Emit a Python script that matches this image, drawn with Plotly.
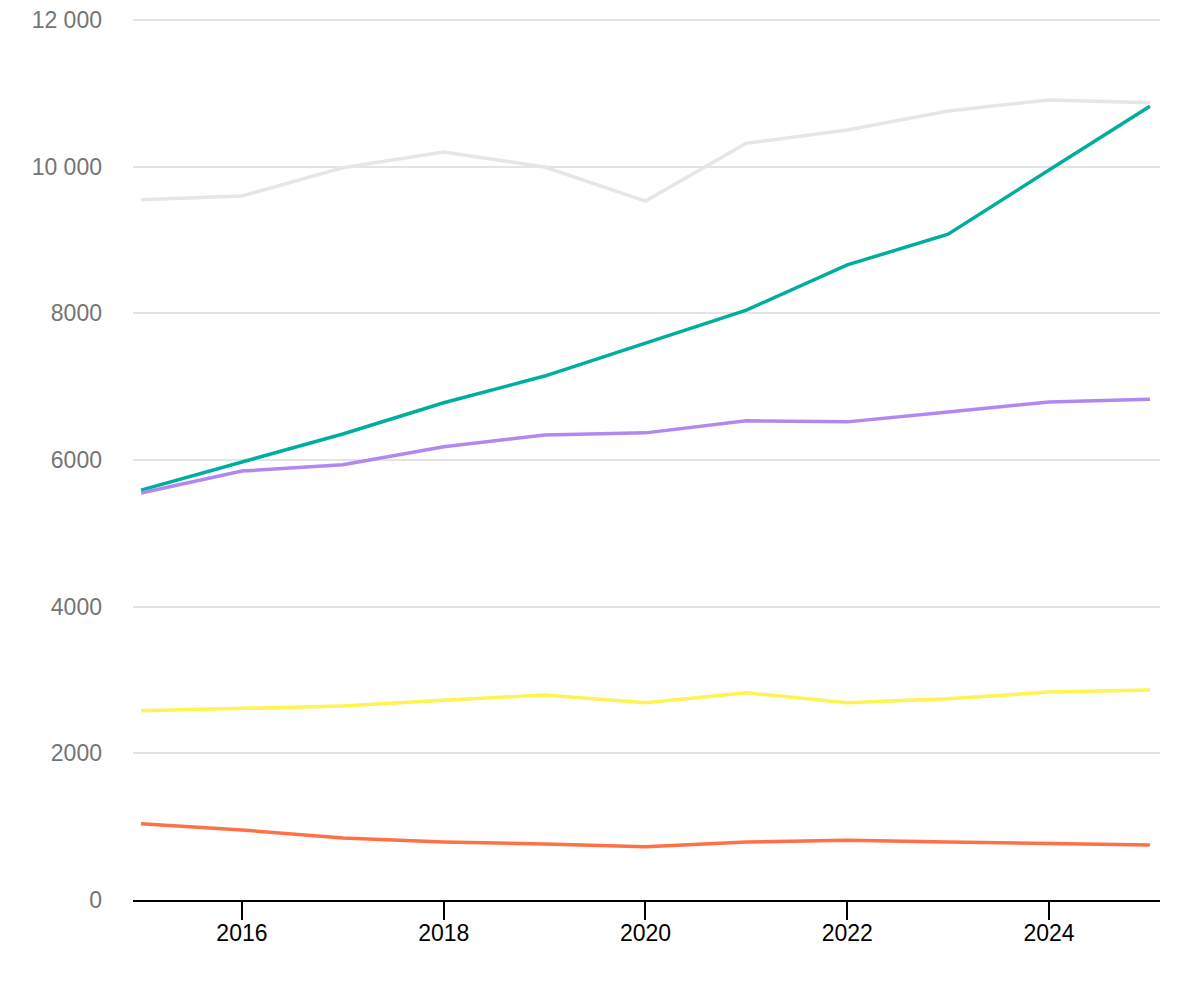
import plotly.graph_objects as go

years = [2015, 2016, 2017, 2018, 2019, 2020, 2021, 2022, 2023, 2024, 2025]

gray_vals = [9550, 9600, 9985, 10200, 9995, 9530, 10320, 10500, 10760, 10910, 10870]
teal_vals = [5590, 5975, 6355, 6780, 7145, 7595, 8045, 8660, 9080, 9955, 10825]
purple_vals = [5550, 5850, 5935, 6180, 6340, 6370, 6535, 6520, 6655, 6790, 6830]
yellow_vals = [2580, 2610, 2645, 2725, 2795, 2690, 2825, 2690, 2745, 2835, 2865]
orange_vals = [1040, 955, 845, 790, 765, 725, 790, 815, 790, 765, 750]

series = [
    ("Gray", gray_vals, "#E6E6E6"),
    ("Teal", teal_vals, "#00AE9E"),
    ("Purple", purple_vals, "#B088F0"),
    ("Yellow", yellow_vals, "#FFF350"),
    ("Orange", orange_vals, "#FF7145"),
]

y_tickvals = [0, 2000, 4000, 6000, 8000, 10000, 12000]
y_ticktext = ["0", "2000", "4000", "6000", "8000", "10 000", "12 000"]
x_tickvals = [2016, 2018, 2020, 2022, 2024]

fig = go.Figure()
for name, vals, color in series:
    fig.add_trace(go.Scatter(x=years, y=vals, mode="lines", name=name,
                             line=dict(color=color, width=3.5)))

fig.update_layout(
    width=1200, height=1000,
    margin=dict(l=125, r=48, t=9, b=108),
    paper_bgcolor="white", plot_bgcolor="white",
    showlegend=False,
    font=dict(family="Liberation Sans, Arial, sans-serif", size=23),
    xaxis=dict(
        range=[2014.92, 2025.1],
        tickvals=x_tickvals,
        ticks="outside", ticklen=18, tickwidth=2, tickcolor="black",
        ticklabelstandoff=-7, ticklabeloverflow="allow", automargin=False,
        showline=True, linecolor="black", linewidth=2,
        showgrid=False, zeroline=False,
        tickfont=dict(color="black", size=23),
    ),
    yaxis=dict(
        range=[0, 12041],
        tickvals=y_tickvals, ticktext=y_ticktext,
        showgrid=True, gridcolor="#E3E3E3", gridwidth=1.5,
        zeroline=False, showline=False,
        ticks="", ticklabelstandoff=30, ticklabeloverflow="allow", automargin=False,
        tickfont=dict(color="#757575", size=23),
    ),
)

fig.write_html("out.html")
